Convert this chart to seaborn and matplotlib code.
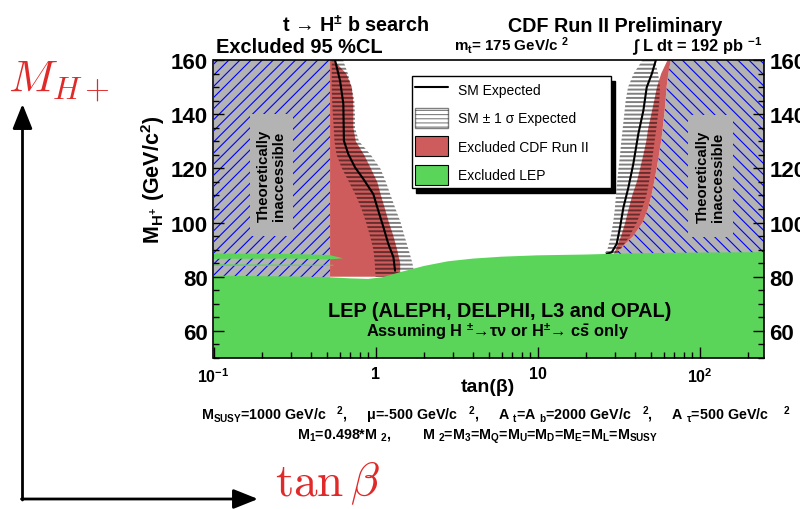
import matplotlib
matplotlib.use("Agg")
import matplotlib.pyplot as plt
from matplotlib.lines import Line2D
from matplotlib.patches import Patch, Rectangle
from matplotlib.ticker import LogLocator, MultipleLocator, NullFormatter
import pandas as pd
import seaborn as sns

# ---------------- axis ticks ----------------
tanb_ticks = [0.1, 1, 10, 100]
tanb_tick_labels = [r"$10^{-1}$", "1", "10", r"$10^{2}$"]
mass_ticks = [60, 80, 100, 120, 140, 160]
tanb_min, tanb_max = 0.1, 250
mass_min, mass_max = 50, 160

# ---------------- low tan(beta) side (sampled on a common M_H+ grid) ----------------
mass_lo_side = [160, 155, 150, 145, 140, 135, 130, 125, 120, 115, 110, 105, 100, 95, 90, 85, 80]
band_lo_side_min = [0.537, 0.537, 0.537, 0.540, 0.545, 0.552, 0.558, 0.575, 0.62, 0.685,
                    0.755, 0.82, 0.875, 0.925, 0.97, 0.99, 1.0]
band_lo_side_max = [0.63, 0.675, 0.713, 0.74, 0.747, 0.747, 0.79, 0.935, 1.07, 1.16,
                    1.24, 1.33, 1.43, 1.51, 1.60, 1.69, 1.75]
cdf_lo_side_max = [0.548, 0.66, 0.713, 0.728, 0.730, 0.730, 0.755, 0.85, 0.935, 1.025,
                   1.08, 1.145, 1.21, 1.29, 1.36, 1.42, 1.42]
theory_lo_limit = 0.524

# ---------------- high tan(beta) side ----------------
mass_hi_side = [160, 155, 150, 145, 140, 135, 130, 125, 120, 115, 110, 105, 100, 95, 90, 88]
band_hi_side_min = [44.5, 39.2, 36.2, 35.0, 34.3, 33.6, 32.9, 32.3, 31.6, 31.0,
                    30.5, 30.0, 29.3, 28.3, 27.0, 25.5]
band_hi_side_max = [53.0, 55.5, 57.0, 56.5, 55.5, 54.2, 52.8, 51.5, 50.3, 48.8,
                    47.0, 44.2, 41.0, 37.0, 32.5, 30.5]
cdf_hi_side_min = [63.5, 58.0, 54.6, 52.5, 50.4, 48.3, 46.9, 45.0, 43.0, 41.0,
                   38.4, 36.5, 34.8, 32.8, 30.4, 29.5]
cdf_hi_side_max = [66.5, 64.2, 62.6, 61.7, 60.6, 59.3, 58.0, 56.2, 54.4, 52.5,
                   50.5, 48.0, 44.5, 39.0, 32.0, 29.5]

# ---------------- SM expected limits ----------------
sm_lo_tanb = [0.562, 0.604, 0.633, 0.638, 0.679, 0.747, 0.841, 0.969, 1.04, 1.12, 1.20, 1.29, 1.32]
sm_lo_mass = [160, 152.4, 143.8, 130.2, 125.3, 120.4, 116.1, 110.5, 104.4, 98.2, 92.1, 87.2, 82.2]
sm_hi_tanb = [53.8, 50.7, 47.2, 45.0, 41.9, 39.0, 36.4, 33.9, 32.3, 30.8, 28.7, 26.7]
sm_hi_mass = [160, 154.8, 149.9, 141.3, 132.7, 121.6, 113.0, 105.6, 98.2, 92.1, 89.0, 88.4]

# ---------------- LEP exclusion ----------------
lep_tanb = [0.1, 0.3, 0.52, 0.7, 0.9, 1.1, 1.4, 2.0, 2.8, 4.0, 6.0, 10, 20, 30, 60, 250]
lep_mass = [80.4, 80.1, 79.8, 79.4, 79.2, 79.8, 81.6, 84.0, 85.7, 86.7, 87.4, 87.9, 88.2, 88.5, 88.8, 89.1]
lep_strip_tanb = [0.1, 0.3, 0.52, 0.63]
lep_strip_min = [86.6, 86.7, 86.4, 86.8]
lep_strip_max = [88.6, 88.4, 88.0, 86.8]
lep_sliver_tanb = [0.1, 0.55]
lep_sliver_min = [84.0, 84.1]
lep_sliver_max = [84.6, 84.4]

GRAY = "#b3b3b3"
RED = "#cf5c5c"
GREEN = "#5ad55a"
BAND = (0.0, 0.0, 0.0, 0.5)
ANNOT_RED = "#e02a2a"

sns.set_theme(style="ticks")
plt.rcParams.update({
    "font.family": ["Liberation Sans", "DejaVu Sans"],
    "font.weight": "bold",
    "mathtext.fontset": "custom",
    "mathtext.rm": "Liberation Sans:bold",
    "mathtext.it": "Liberation Sans:bold",
    "mathtext.bf": "Liberation Sans:bold",
    "mathtext.sf": "Liberation Sans:bold",
    "axes.edgecolor": "black",
    "axes.linewidth": 1.2,
    "axes.labelcolor": "black",
    "axes.labelweight": "bold",
    "xtick.color": "black",
    "ytick.color": "black",
    "text.color": "black",
    "hatch.linewidth": 0.8,
})


def hatch_width(artist, lw):
    if hasattr(artist, "set_hatch_linewidth"):
        artist.set_hatch_linewidth(lw)
    return artist


fig = plt.figure(figsize=(8, 5.1), dpi=100)
ax = fig.add_axes([213.5 / 800, 1 - 359 / 510, 550.5 / 800, 298 / 510])
ax.set_xscale("log")
ax.set_xlim(tanb_min, tanb_max)
ax.set_ylim(mass_min, mass_max)

# theoretically inaccessible regions
with plt.rc_context({"hatch.linewidth": 0.8}):
    hatch_width(ax.fill_betweenx([mass_min, mass_max], tanb_min, theory_lo_limit,
                                 facecolor=GRAY, edgecolor="blue", hatch="///",
                                 linewidth=0, zorder=1), 0.8)
    hatch_width(ax.fill_betweenx(mass_hi_side, cdf_hi_side_max, tanb_max,
                                 facecolor=GRAY, edgecolor="blue", hatch="\\\\\\",
                                 linewidth=0, zorder=1), 0.8)

# CDF Run II exclusion
ax.fill_betweenx(mass_lo_side, theory_lo_limit, cdf_lo_side_max,
                 facecolor=RED, edgecolor="none", linewidth=0, zorder=2)
ax.fill_betweenx(mass_hi_side, cdf_hi_side_min, cdf_hi_side_max,
                 facecolor=RED, edgecolor="none", linewidth=0, zorder=2)

# SM +- 1 sigma expected bands (striped)
with plt.rc_context({"hatch.linewidth": 1.4}):
    hatch_width(ax.fill_betweenx(mass_lo_side, band_lo_side_min, band_lo_side_max,
                                 facecolor="none", edgecolor=BAND, hatch="----",
                                 linewidth=0, zorder=3), 1.4)
    hatch_width(ax.fill_betweenx(mass_hi_side, band_hi_side_min, band_hi_side_max,
                                 facecolor="none", edgecolor=BAND, hatch="----",
                                 linewidth=0, zorder=3), 1.4)

# SM expected limits
sm_lo = pd.DataFrame({"tanb": sm_lo_tanb, "mass": sm_lo_mass})
sm_hi = pd.DataFrame({"tanb": sm_hi_tanb, "mass": sm_hi_mass})
for df in (sm_lo, sm_hi):
    sns.lineplot(data=df, x="tanb", y="mass", sort=False, estimator=None,
                 color="black", linewidth=1.5, ax=ax, zorder=4)

# LEP exclusion
ax.fill_between(lep_tanb, mass_min, lep_mass, facecolor=GREEN, edgecolor="none",
                linewidth=0, zorder=5)
ax.fill_between(lep_strip_tanb, lep_strip_min, lep_strip_max, facecolor=GREEN,
                edgecolor="none", linewidth=0, zorder=5)
ax.fill_between(lep_sliver_tanb, lep_sliver_min, lep_sliver_max, facecolor=GREEN,
                edgecolor="none", linewidth=0, zorder=5)

# "Theoretically inaccessible" labels
for (x0, y0, w, h) in [(0.0663, 0.409, 0.0781, 0.41), (0.862, 0.405, 0.082, 0.41)]:
    ax.add_patch(Rectangle((x0, y0), w, h, transform=ax.transAxes, facecolor=GRAY,
                           edgecolor="none", zorder=6))
    ax.text(x0 + w / 2, y0 + h / 2, "Theoretically\ninaccessible", transform=ax.transAxes,
            rotation=90, ha="center", va="center", fontsize=10.8, linespacing=1.05, zorder=7)

ax.text(0.520, 0.159, "LEP (ALEPH, DELPHI, L3 and OPAL)", transform=ax.transAxes,
        ha="center", va="center", fontsize=14.3, zorder=7)
ax.text(0.517, 0.092, r"Assuming H $^{\pm}$→τν or H$^{\pm}$→ c$\bar{s}$ only",
        transform=ax.transAxes, ha="center", va="center", fontsize=11.8, zorder=7)

# axes, ticks
ax.set_xticks(tanb_ticks, labels=tanb_tick_labels)
ax.xaxis.set_minor_locator(LogLocator(base=10, subs=range(2, 10), numticks=20))
ax.xaxis.set_minor_formatter(NullFormatter())
ax.set_yticks(mass_ticks)
ax.yaxis.set_minor_locator(MultipleLocator(5))
ax.tick_params(which="both", direction="in", left=True, right=True, bottom=True, top=False,
               labelright=True, width=1)
ax.tick_params(which="major", length=8)
ax.tick_params(which="minor", length=4)
ax.tick_params(axis="y", labelsize=16, pad=4)
ax.tick_params(axis="x", labelsize=11.5, pad=6)
for lab in ax.get_xticklabels() + ax.get_yticklabels():
    lab.set_fontweight("bold")
for s in ax.spines.values():
    s.set_zorder(10)
    s.set_visible(True)
ax.xaxis.set_zorder(10)
ax.yaxis.set_zorder(10)

ax.set_xlabel("tan(β)", fontsize=14)
ax.xaxis.set_label_coords(0.499, -0.066)
ax.set_ylabel(r"M$_{H^{+}}$ (GeV/c$^{2}$)", fontsize=15.5)
ax.yaxis.set_label_coords(-0.085, 0.60)

# legend
handles = [
    Line2D([], [], color="black", linewidth=1.5),
    Patch(facecolor="white", edgecolor=BAND, hatch="----", linewidth=1),
    Patch(facecolor=RED, edgecolor="black", linewidth=0.8),
    Patch(facecolor=GREEN, edgecolor="black", linewidth=0.8),
]
labels = ["SM Expected", "SM ± 1 σ Expected", "Excluded CDF Run II", "Excluded LEP"]
leg = ax.legend(handles, labels, loc="upper left", bbox_to_anchor=(0.360, 0.574, 0.362, 0.372),
                bbox_transform=ax.transAxes, mode="expand", borderaxespad=0,
                prop={"weight": "normal", "size": 10}, frameon=True, fancybox=False,
                shadow={"ox": 2.8, "oy": -3.5, "shade": 1.0, "alpha": 1.0},
                handlelength=2.37, handleheight=1.84, handletextpad=0.72,
                labelspacing=0.6, borderpad=0.25)
leg.get_frame().set_edgecolor("black")
leg.get_frame().set_linewidth(1.0)
leg.get_frame().set_alpha(1.0)
leg.set_zorder(12)

# header and footer texts
def ftext(x, y, s, **kw):
    fig.text(x / 800, 1 - y / 510, s, va="baseline", **kw)

ftext(355.5, 32, r"t → H$^{\pm}$ b search", ha="center", fontsize=14.2)
ftext(615, 32, "CDF Run II Preliminary", ha="center", fontsize=14.2)
ftext(216, 53, "Excluded 95 %CL", ha="left", fontsize=14.4)
ftext(454, 51, r"m$_{t}$= 175 GeV/c $^{2}$", ha="left", fontsize=10.9)
ftext(632, 52, r"∫ L dt = 192 pb $^{-1}$", ha="left", fontsize=11.8)
ftext(201, 420, r"M$_{SUSY}$=1000 GeV/c   $^{2}$,     μ=-500 GeV/c   $^{2}$,     "
                r"A $_{t}$=A $_{b}$=2000 GeV/c   $^{2}$,     A $_{τ}$=500 GeV/c    $^{2}$",
      ha="left", fontsize=10.3)
ftext(297, 440, r"M$_{1}$=0.498*M $_{2}$,        "
                r"M $_{2}$=M$_{3}$=M$_{Q}$=M$_{U}$=M$_{D}$=M$_{E}$=M$_{L}$=M$_{SUSY}$",
      ha="left", fontsize=10.3)

# schematic axes in the left margin
ov = fig.add_axes([0, 0, 1, 1], zorder=-1)
ov.set_xlim(0, 800)
ov.set_ylim(510, 0)
ov.axis("off")
arrow = dict(arrowstyle="-|>,head_length=0.75,head_width=0.3", lw=2.0, color="black",
             mutation_scale=20, shrinkA=0, shrinkB=0)
ov.annotate("", xy=(22.5, 105), xytext=(22.5, 501), arrowprops=arrow)
ov.annotate("", xy=(258, 500), xytext=(21.5, 500), arrowprops=arrow)
ov.text(8, 92, r"$M_{H+}$", color=ANNOT_RED, fontsize=33, math_fontfamily="cm",
        va="baseline", ha="left")
ov.text(275, 496, r"$\tan\beta$", color=ANNOT_RED, fontsize=34, math_fontfamily="cm",
        va="baseline", ha="left")

fig.savefig("out.png", dpi=100)
